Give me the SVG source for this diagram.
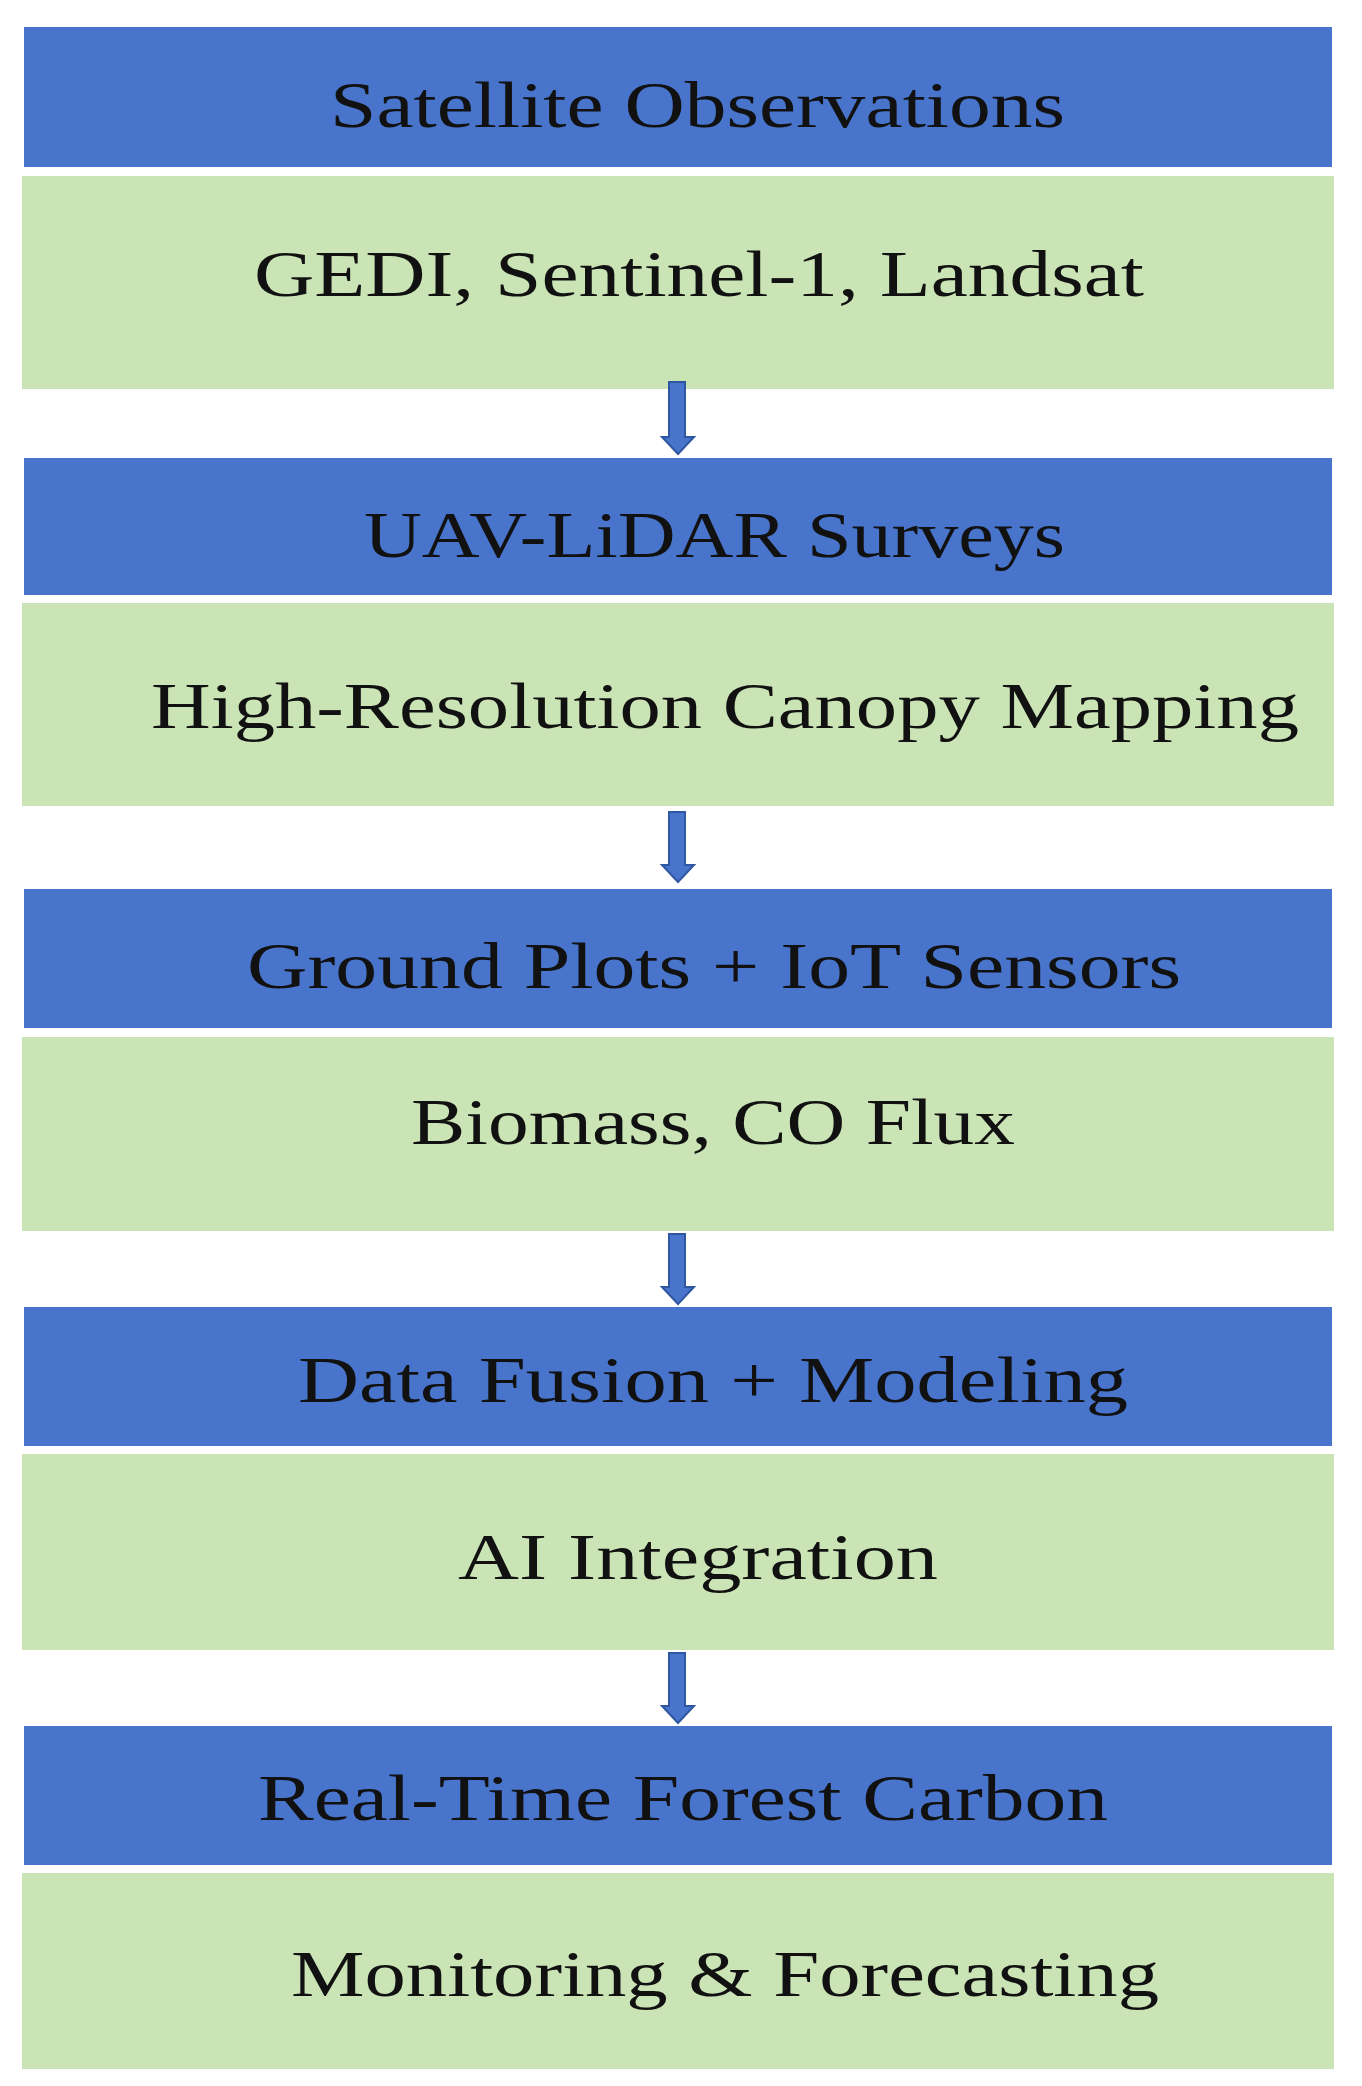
<svg xmlns="http://www.w3.org/2000/svg" width="1362" height="2086" viewBox="0 0 1362 2086">
<style>
.b{fill:#4874cb}.g{fill:#cae4b6}
text{font-family:"Liberation Serif",serif;font-size:66px;fill:#111}
.ar{fill:#4874cb;stroke:#2f56a0;stroke-width:2}
</style>
<rect width="1362" height="2086" fill="#fff"/>
<g id="n1"><rect class="b" x="24" y="27" width="1308" height="140"/><text x="330" y="127" textLength="735" lengthAdjust="spacingAndGlyphs">Satellite Observations</text></g>
<g id="n2"><rect class="g" x="22" y="176" width="1312" height="213"/><text x="254" y="296" textLength="890" lengthAdjust="spacingAndGlyphs">GEDI, Sentinel-1, Landsat</text></g>
<g id="n3"><rect class="b" x="24" y="458" width="1308" height="137"/><text x="364" y="557" textLength="701" lengthAdjust="spacingAndGlyphs">UAV-LiDAR Surveys</text></g>
<g id="n4"><rect class="g" x="22" y="603" width="1312" height="203"/><text x="151" y="728" textLength="1148" lengthAdjust="spacingAndGlyphs">High-Resolution Canopy Mapping</text></g>
<g id="n5"><rect class="b" x="24" y="889" width="1308" height="139"/><text x="247" y="988" textLength="934" lengthAdjust="spacingAndGlyphs">Ground Plots + IoT Sensors</text></g>
<g id="n6"><rect class="g" x="22" y="1037" width="1312" height="194"/><text x="411" y="1144" textLength="604" lengthAdjust="spacingAndGlyphs">Biomass, CO Flux</text></g>
<g id="n7"><rect class="b" x="24" y="1307" width="1308" height="139"/><text x="298" y="1402" textLength="830" lengthAdjust="spacingAndGlyphs">Data Fusion + Modeling</text></g>
<g id="n8"><rect class="g" x="22" y="1454" width="1312" height="196"/><text x="458" y="1579" textLength="480" lengthAdjust="spacingAndGlyphs">AI Integration</text></g>
<g id="n9"><rect class="b" x="24" y="1726" width="1308" height="139"/><text x="258" y="1820" textLength="850" lengthAdjust="spacingAndGlyphs">Real-Time Forest Carbon</text></g>
<g id="n10"><rect class="g" x="22" y="1873" width="1312" height="196"/><text x="291" y="1996" textLength="868" lengthAdjust="spacingAndGlyphs">Monitoring &amp; Forecasting</text></g>
<g id="connectors">
<path class="ar" d="M669 382h16v55h9l-16 17l-16-17h7z"/>
<path class="ar" d="M669 812h16v53h9l-16 17l-16-17h7z"/>
<path class="ar" d="M669 1234h16v53h9l-16 17l-16-17h7z"/>
<path class="ar" d="M669 1653h16v53h9l-16 17l-16-17h7z"/>
</g>
</svg>
